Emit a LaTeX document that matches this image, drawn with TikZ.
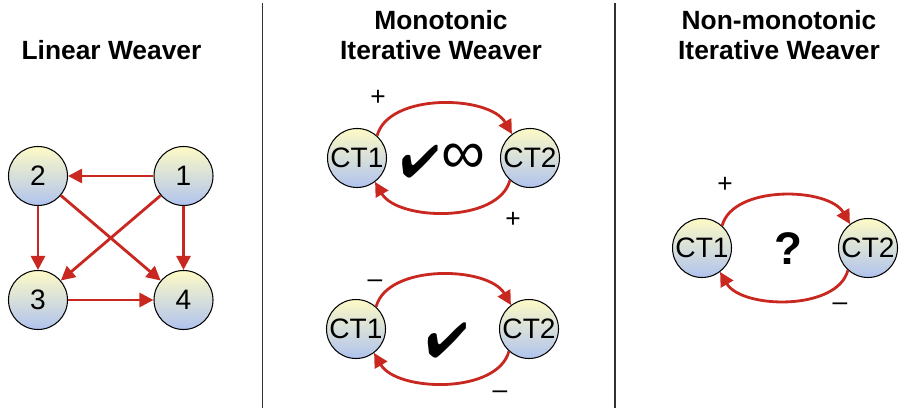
\documentclass[tikz,border=0pt]{standalone}
\usepackage{fontspec}
\setmainfont{Liberation Sans}
\usepackage{pifont}
\usepackage{xcolor}
\usetikzlibrary{arrows.meta, positioning, calc}
\definecolor{cyel}{RGB}{253,250,198}
\definecolor{cblu}{RGB}{176,195,238}
\definecolor{wred}{RGB}{200,40,32}
\definecolor{divgray}{RGB}{50,50,50}

\begin{document}
\begin{tikzpicture}[
  every node/.style={font=\fontsize{16}{18}\selectfont},
  ctnode/.style={circle, draw, line width=0.6pt, top color=cyel, bottom color=cblu, minimum size=1.18cm, inner sep=0pt},
  title/.style={align=center, font=\fontsize{15}{17}\selectfont\bfseries},
  link/.style={wred, line width=1.6pt, -{Triangle[length=8pt,width=8pt]}},
  sign/.style={font=\fontsize{15}{17}\selectfont}
]
  \useasboundingbox (0,0) rectangle (18.02,8.22);

  % titles
  \node[title] (tlin) at (2.23,7.22) {Linear Weaver};
  \node[title] (tmon) at (8.82,7.52) {Monotonic\\Iterative Weaver};
  \node[title] (tnon) at (15.58,7.52) {Non-monotonic\\Iterative Weaver};

  % dividers
  \draw[divgray, line width=0.9pt] (5.25,0.06) -- (5.25,8.16);
  \draw[divgray, line width=0.9pt] (12.3,0.06) -- (12.3,8.16);

  % linear weaver
  \node[ctnode] (n1) at (3.67,4.70) {1};
  \node[ctnode] (n2) at (0.76,4.70) {2};
  \node[ctnode] (n3) at (0.76,2.22) {3};
  \node[ctnode] (n4) at (3.67,2.22) {4};

  \draw[link] (n1) -- (n2);
  \draw[link] (n2) -- (n3);
  \draw[link] (n1) -- (n4);
  \draw[link] (n3) -- (n4);
  \draw[link] (n1) -- (n3);
  \draw[link] (n2) -- (n4);

  % monotonic, both positive
  \node[ctnode] (pa) at (7.14,5.06) {CT1};
  \node[ctnode] (pb) at (10.60,5.06) {CT2};
  \draw[link] (pa.48) to[out=75,in=120,looseness=0.85] (pb.127);
  \draw[link] (pb.228) to[out=255,in=300,looseness=0.85] (pa.307);
  \node[sign] (pplus1) at (7.56,6.26) {+};
  \node[sign] (pplus2) at (10.26,3.82) {+};
  \node[font=\fontsize{26}{26}\selectfont] (pchk) at (8.40,4.98) {\ding{52}};
  \node[font=\fontsize{35}{35}\selectfont] (pinf) at (9.26,5.04) {∞};

  % monotonic, both negative
  \node[ctnode] (ma) at (7.12,1.64) {CT1};
  \node[ctnode] (mb) at (10.58,1.64) {CT2};
  \draw[link] (ma.48) to[out=75,in=120,looseness=0.85] (mb.127);
  \draw[link] (mb.228) to[out=255,in=300,looseness=0.85] (ma.307);
  \node[sign] (mminus1) at (7.50,2.54) {–};
  \node[sign] (mminus2) at (10.00,0.32) {–};
  \node[font=\fontsize{28}{28}\selectfont] (mchk) at (8.94,1.42) {\ding{52}};

  % non-monotonic
  \node[ctnode] (xa) at (14.04,3.26) {CT1};
  \node[ctnode] (xb) at (17.36,3.26) {CT2};
  \draw[link] (xa.48) to[out=75,in=120,looseness=0.85] (xb.127);
  \draw[link] (xb.228) to[out=255,in=300,looseness=0.85] (xa.307);
  \node[sign] (xplus) at (14.50,4.52) {+};
  \node[sign] (xminus) at (16.80,2.08) {–};
  \node[font=\fontsize{26}{26}\selectfont\bfseries] (xq) at (15.76,3.24) {?};
\end{tikzpicture}
\end{document}
